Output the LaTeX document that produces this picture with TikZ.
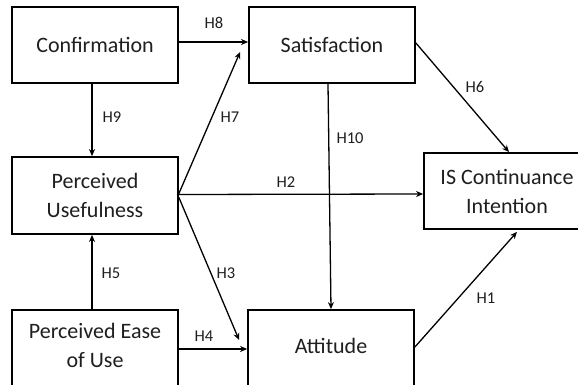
\documentclass[tikz,border=0pt]{standalone}
\usepackage{fontspec}
\setmainfont{Carlito}
\usetikzlibrary{arrows.meta,calc}
\tikzset{
  box/.style={draw=black, line width=1.8pt, rectangle, inner sep=0pt, align=center,
    font=\fontsize{22}{29}\selectfont, text=black!88},
  conn/.style={line width=1.3pt, -{Stealth[length=7pt,width=6pt]}},
  hlab/.style={font=\fontsize{16.5}{18}\selectfont, text=black!88, inner sep=0pt}
}
\begin{document}
\begin{tikzpicture}[x=1pt,y=-1pt]
\useasboundingbox (0,0) rectangle (578,385);
\clip (0,0) rectangle (578,385);
\fill[white] (0,0) rectangle (578,385);
% boxes
\node[box, minimum width=166pt, minimum height=76pt] (conf) at (95,45) {Confirmation};
\node[box, minimum width=166pt, minimum height=76pt] (sat) at (332,45) {Satisfaction};
\node[box, minimum width=166pt, minimum height=77pt] (pu) at (95,195.5) {Perceived\\Usefulness};
\node[box, minimum width=166pt, minimum height=76pt] (is) at (507,191) {IS Continuance\\Intention};
\node[box, minimum width=166pt, minimum height=80pt, text depth=9pt] (peou) at (95,350) {Perceived Ease\\of Use};
\node[box, minimum width=166pt, minimum height=80pt, text depth=9pt] (att) at (331,350) {Attitude};
% connectors
\draw[conn] ($(conf.east)+(0,-3)$) -- ($(sat.west)+(0,-3)$);
\draw[conn] ($(conf.south)+(-3,0)$) -- ($(pu.north)+(-3,0)$);
\draw[conn] ($(pu.east)+(0,-2)$) -- ($(sat.west)+(-8,7)$);
\draw[conn] ($(pu.east)+(0,-1)$) -- ($(is.west)+(0,3)$);
\draw[conn] ($(pu.east)+(0,2)$) -- ($(att.west)+(-8,-10)$);
\draw[conn] ($(peou.east)+(0,-1)$) -- ($(att.west)+(0,-1)$);
\draw[conn] ($(peou.north)+(-3,0)$) -- ($(pu.south)+(-3,0)$);
\draw[conn] ($(sat.east)+(0,-2)$) -- ($(is.north)+(2,0)$);
\draw[conn] ($(sat.south)+(-4,0)$) -- (att.north);
\draw[conn] ($(att.east)+(0,-3)$) -- ($(is.south)+(10,2)$);
% labels
\node[hlab] (h8) at (214,23) {H8};
\node[hlab] (h9) at (112,117) {H9};
\node[hlab] (h7) at (230,117) {H7};
\node[hlab] (h2) at (286,182) {H2};
\node[hlab] (h6) at (475,87) {H6};
\node[hlab] (h10) at (350,138) {H10};
\node[hlab] (h5) at (111,273) {H5};
\node[hlab] (h3) at (226,273) {H3};
\node[hlab] (h4) at (204,336) {H4};
\node[hlab] (h1) at (486,298) {H1};
\end{tikzpicture}
\end{document}
